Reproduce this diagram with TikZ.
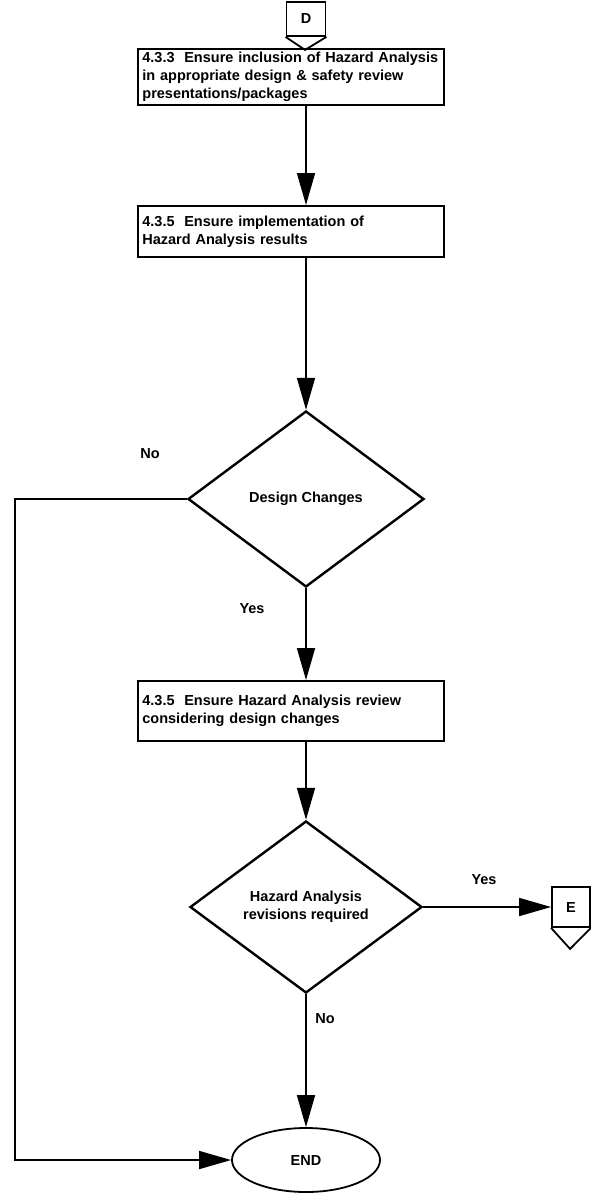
\documentclass[tikz,border=0pt]{standalone}
\usepackage{fontspec}
\setmainfont{Liberation Sans}
\usetikzlibrary{shapes.geometric,arrows.meta}
\tikzset{
  box/.style={draw, line width=1.8pt, anchor=north west, text width=297pt,
    inner xsep=4.5pt, inner ysep=2pt, align=left},
  dec/.style={diamond, draw, line width=2.4pt, align=center, inner sep=0pt},
  conn/.style={draw, line width=1.8pt, minimum width=39pt, minimum height=34pt, inner sep=0pt},
  arr/.style={line width=1.6pt, -{Triangle[length=32pt,width=18pt]}}
}
\begin{document}
\begin{tikzpicture}[x=1pt, y=-1pt, font=\fontsize{14.5}{18}\selectfont\bfseries]
    \useasboundingbox (0,0) rectangle (591,1195);

    \node[conn] (d) at (306,19) {D};
    \draw[line width=1.8pt] (d.south west) -- ++(19.5,13) -- (d.south east);

    \node[box, minimum height=56pt] (b433) at (137,48) {4.3.3\ \ Ensure inclusion of Hazard Analysis\\in appropriate design \& safety review\\presentations/packages};
    \node[box, minimum height=51pt] (b435a) at (137,205) {4.3.5\ \ Ensure implementation of\\Hazard Analysis results};
    \node[dec, minimum width=236pt, minimum height=176pt] (dc) at (306,499) {Design Changes};
    \node[box, minimum height=60pt] (b435b) at (137,680) {4.3.5\ \ Ensure Hazard Analysis review\\considering design changes};
    \node[dec, minimum width=232pt, minimum height=172pt] (hr) at (306,907) {Hazard Analysis\\revisions required};
    \node[conn, minimum width=38pt, minimum height=40pt] (e) at (571,907) {E};
    \draw[line width=1.8pt] (e.south west) -- ++(19,21) -- (e.south east);
    \node[ellipse, draw, line width=1.8pt, minimum width=148pt, minimum height=64pt] (endn) at (306,1160) {END};
    \coordinate (c1) at (15,499);

    \node (no1) at (150,454) {No};
    \node (yes1) at (252,609) {Yes};
    \node (yes2) at (484,880) {Yes};
    \node (no2) at (325,1019) {No};

    \draw[arr] (b433.south -| d.south) -- (b435a.north -| d.south);
    \draw[arr] (b435a.south -| d.south) -- (dc.north);
    \draw[arr] (dc.south) -- (b435b.north -| dc.south);
    \draw[arr] (b435b.south -| dc.south) -- (hr.north);
    \draw[arr] (hr.east) -- (e.west);
    \draw[arr] (hr.south) -- (endn.north);
    \draw[arr] (dc.west) -- (c1) |- (endn.west);
\end{tikzpicture}
\end{document}
